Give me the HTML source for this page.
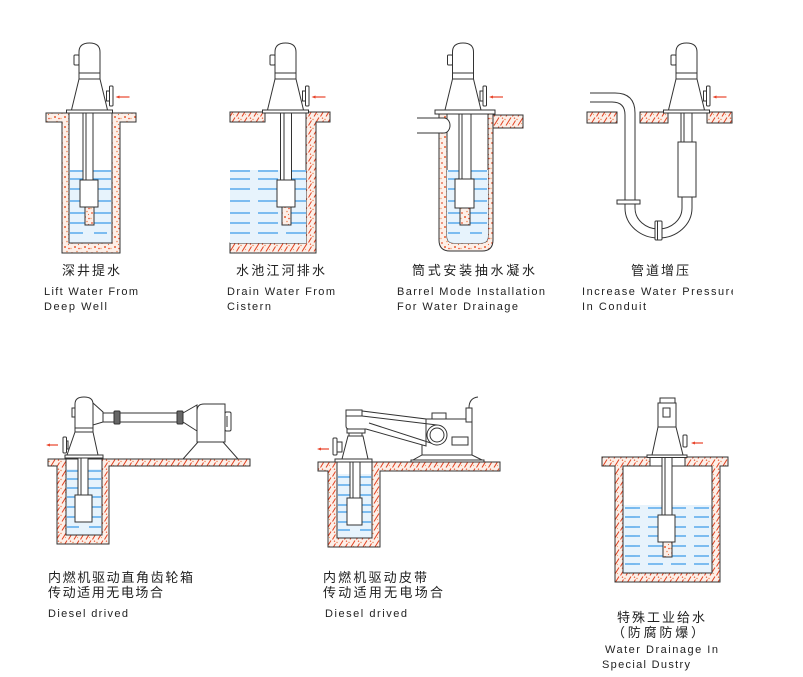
<!DOCTYPE html>
<html><head><meta charset="utf-8"><style>
html,body{margin:0;padding:0;background:#fff;}
svg{display:block;}
text{font-family:"Liberation Sans","Noto Sans CJK SC",sans-serif;fill:#222;}
.cn{font-size:13px;}
.en{font-size:11px;}
</style></head><body>
<svg width="803" height="677" viewBox="0 0 803 677" xmlns="http://www.w3.org/2000/svg">
<defs>
<pattern id="dots" width="10" height="10" patternUnits="userSpaceOnUse">
 <rect width="10" height="10" fill="#fcefe8"/>
 <circle cx="2" cy="3" r="0.9" fill="#e8542e"/>
 <circle cx="7" cy="1.5" r="0.8" fill="#f08a5a"/>
 <circle cx="5" cy="7" r="1" fill="#ea5a30"/>
 <circle cx="9" cy="8.5" r="0.8" fill="#e84a2a"/>
 <circle cx="1" cy="8.5" r="0.7" fill="#f3a070"/>
 <circle cx="8.5" cy="4.5" r="0.6" fill="#ee7040"/>
</pattern>
<pattern id="hatch" width="12" height="9" patternUnits="userSpaceOnUse">
 <rect width="12" height="9" fill="#fcefe8"/>
 <path d="M2,8.5 L7,0.5 M8.5,8.5 L11.5,3.5" stroke="#e2401f" stroke-width="1" fill="none"/>
 <circle cx="1" cy="2.5" r="0.7" fill="#f08050"/>
 <circle cx="10.5" cy="1.2" r="0.7" fill="#ea5a35"/>
 <circle cx="5.5" cy="6.5" r="0.6" fill="#f3a070"/>
</pattern>
<clipPath id="clipR"><rect x="0" y="0" width="733" height="677"/></clipPath>
<g id="hd" stroke="#333" stroke-width="1" fill="#fff">
 <rect x="-15.5" y="55" width="5" height="10" rx="1"/>
 <path d="M-10.5,73 V52 Q-10.5,43 0,43 Q10.5,43 10.5,52 V73 Z"/>
 <rect x="-10.5" y="73" width="21" height="6"/>
 <path d="M-10.5,79 H10.5 L18,110 H-18 Z"/>
 <rect x="17" y="91" width="3" height="10"/>
 <rect x="20" y="86" width="3.5" height="20" rx="1"/>
 <rect x="-23" y="110" width="46" height="3"/>
 <line x1="29" y1="97" x2="40" y2="97" stroke="#e8442a" stroke-width="1.2"/>
 <path d="M26,97 L30,95.5 V98.5 Z" fill="#e8442a" stroke="none"/>
</g>
</defs>

<rect width="803" height="677" fill="#fff"/>

<!-- ============ PANEL 1 ============ -->
<g stroke="#333" stroke-width="1">
 <path d="M46,113 H136 V122 H120 V253 H62 V122 H46 Z M69,113 V243 H112 V113 Z" fill="url(#dots)" fill-rule="evenodd"/>
 <rect x="69.5" y="170" width="42" height="72.5" fill="#e7f3fc" stroke="none"/>
</g>
<g stroke="#3d9ce8" stroke-width="1.3">
 <line x1="70" y1="171" x2="111" y2="171"/>
 <line x1="70" y1="179" x2="111" y2="179"/>
 <line x1="70" y1="189" x2="111" y2="189"/>
 <line x1="70" y1="201" x2="111" y2="201"/>
 <line x1="70" y1="213" x2="111" y2="213"/>
 <line x1="70" y1="223" x2="111" y2="223"/>
 <line x1="70" y1="233" x2="111" y2="233" stroke-dasharray="13 11"/>
</g>
<g stroke="#333" stroke-width="1" fill="#fff">
 <rect x="83" y="113" width="10" height="67"/>
 <line x1="86" y1="113" x2="86" y2="180"/>
 <rect x="80" y="180" width="18" height="27"/>
 <rect x="85" y="207" width="9" height="18" fill="url(#dots)"/>
</g>
<use href="#hd" x="89.5"/>

<!-- ============ PANEL 2 ============ -->
<g stroke="#333" stroke-width="1">
 <rect x="230" y="112" width="35" height="10" fill="url(#hatch)"/>
 <path d="M306,112 H330 V122 H316 V253 H230 V243 H306 Z" fill="url(#hatch)"/>
 <rect x="230" y="170" width="76" height="73" fill="#e7f3fc" stroke="none"/>
</g>
<g stroke="#3d9ce8" stroke-width="1.3" stroke-dasharray="20 8">
 <line x1="230" y1="171" x2="306" y2="171"/>
 <line x1="230" y1="179" x2="306" y2="179"/>
 <line x1="230" y1="189" x2="306" y2="189"/>
 <line x1="230" y1="201" x2="306" y2="201"/>
 <line x1="230" y1="213" x2="306" y2="213"/>
 <line x1="230" y1="223" x2="306" y2="223"/>
 <line x1="230" y1="233" x2="306" y2="233"/>
</g>
<g stroke="#333" stroke-width="1" fill="#fff">
 <rect x="280.5" y="113" width="11" height="67"/>
 <line x1="284" y1="113" x2="284" y2="180"/>
 <rect x="277" y="180" width="18" height="27"/>
 <rect x="282" y="207" width="9" height="18" fill="url(#dots)"/>
</g>
<use href="#hd" x="285.5"/>

<!-- ============ PANEL 3 ============ -->
<g stroke="#333" stroke-width="1">
 <path d="M439,114 V240 Q439,251 450,251 H482 Q493,251 493,240 V114 Z M447,114 V236 Q447,243 454,243 H481 Q488,243 488,236 V114 Z" fill="url(#dots)" fill-rule="evenodd"/>
 <path d="M447,170 V236 Q447,243 454,243 H481 Q488,243 488,236 V170 Z" fill="#e7f3fc" stroke="none"/>
 <rect x="493" y="115" width="30" height="13" fill="url(#hatch)"/>
 <rect x="417" y="118" width="27" height="15" fill="#fff" stroke="none"/>
 <path d="M417,118 H444 A6,7.5 0 0 1 444,133 H417" fill="#fff"/>
</g>
<g stroke="#3d9ce8" stroke-width="1.3">
 <line x1="448" y1="171" x2="487" y2="171"/>
 <line x1="448" y1="179" x2="487" y2="179"/>
 <line x1="448" y1="189" x2="487" y2="189"/>
 <line x1="448" y1="201" x2="487" y2="201"/>
 <line x1="448" y1="213" x2="487" y2="213"/>
 <line x1="448" y1="223" x2="487" y2="223"/>
 <line x1="448" y1="233" x2="487" y2="233" stroke-dasharray="12 10"/>
</g>
<g stroke="#333" stroke-width="1" fill="#fff">
 <rect x="459" y="114" width="12" height="66"/>
 <line x1="462" y1="114" x2="462" y2="180"/>
 <rect x="455" y="179" width="19" height="29"/>
 <rect x="460" y="208" width="10" height="17" fill="url(#dots)"/>
</g>
<use href="#hd" x="463"/>
<rect x="435" y="110" width="60" height="4" fill="#fff" stroke="#333"/>

<!-- ============ PANEL 4 ============ -->
<g stroke="#333" stroke-width="1" fill="none">
 <rect x="587" y="112" width="30" height="11" fill="url(#hatch)"/>
 <rect x="640" y="112" width="28" height="11" fill="url(#hatch)"/>
 <rect x="707" y="112" width="25" height="11" fill="url(#hatch)"/>
 <path d="M590,93 H615 Q635,93 635,113 V200"/>
 <path d="M590,102 H612 Q625,102 625,115 V200"/>
 <path d="M625,204 V208 A33.5,30 0 0 0 692,208 V197"/>
 <path d="M635,204 V208 A23.5,21 0 0 0 682,208 V197"/>
 <rect x="617" y="200" width="23" height="4" fill="#fff"/>
 <rect x="655" y="221" width="7" height="19" fill="#fff" rx="1"/>
 <line x1="657.5" y1="221" x2="657.5" y2="240"/>
 <rect x="681" y="113" width="11" height="29" fill="#fff"/>
 <line x1="684" y1="113" x2="684" y2="142"/>
 <rect x="678" y="142" width="18" height="55" fill="#fff"/>
</g>
<use href="#hd" x="686.5"/>

<!-- ============ PANEL 5 ============ -->
<g stroke="#333" stroke-width="1">
 <path d="M48,459 H250 V466 H109 V544 H57 V466 H48 Z M66,459 V535 H102 V459 Z" fill="url(#hatch)" fill-rule="evenodd"/>
 <rect x="66.5" y="469" width="35" height="65.5" fill="#e7f3fc" stroke="none"/>
</g>
<g stroke="#3d9ce8" stroke-width="1.3">
 <line x1="67" y1="471" x2="101" y2="471"/>
 <line x1="67" y1="479" x2="101" y2="479"/>
 <line x1="67" y1="488" x2="101" y2="488"/>
 <line x1="67" y1="497" x2="101" y2="497"/>
 <line x1="67" y1="507" x2="101" y2="507"/>
 <line x1="67" y1="517" x2="101" y2="517"/>
 <line x1="67" y1="527" x2="101" y2="527" stroke-dasharray="12 10"/>
</g>
<g stroke="#333" stroke-width="1" fill="#fff">
 <rect x="78" y="458" width="10" height="37"/>
 <line x1="81" y1="458" x2="81" y2="495"/>
 <rect x="75" y="495" width="17" height="27"/>
 <rect x="72" y="408" width="3" height="9"/>
 <path d="M75,428 V404 Q75,397 84,397 Q93,397 93,404 V428 Z"/>
 <rect x="75" y="428" width="18" height="4"/>
 <path d="M75,432 H93 L98,455 H67 Z"/>
 <rect x="66" y="441" width="2" height="8"/>
 <rect x="63" y="437" width="3.5" height="16" rx="1"/>
 <rect x="65" y="455" width="38" height="3"/>
 <path d="M93,403 L103,412 V422 L93,425 Z"/>
 <rect x="103" y="413" width="80" height="9"/>
 <rect x="114" y="411" width="6" height="13" rx="1" fill="#666"/>
 <rect x="177" y="411" width="6" height="13" rx="1" fill="#666"/>
 <path d="M183,413 L197,405 V431 L183,422 Z"/>
 <path d="M198,442 H223 L238,459 H183 Z"/>
 <path d="M197,442 V411 Q197,404 204,404 H225 V442 Z"/>
 <rect x="225" y="412" width="6" height="19" rx="1.5"/>
 <line x1="227" y1="416" x2="227" y2="427"/>
</g>
<line x1="49" y1="445" x2="58" y2="445" stroke="#e8442a" stroke-width="1.2"/>
<path d="M46,445 L50,443.5 V446.5 Z" fill="#e8442a"/>

<!-- ============ PANEL 6 ============ -->
<g stroke="#333" stroke-width="1">
 <path d="M318,462 H500 V471 H380 V547 H328 V471 H318 Z M337,462 V538 H372 V462 Z" fill="url(#hatch)" fill-rule="evenodd"/>
 <rect x="337.5" y="474" width="34" height="63.5" fill="#e7f3fc" stroke="none"/>
</g>
<g stroke="#3d9ce8" stroke-width="1.3">
 <line x1="338" y1="477" x2="371" y2="477"/>
 <line x1="338" y1="485" x2="371" y2="485"/>
 <line x1="338" y1="495" x2="371" y2="495"/>
 <line x1="338" y1="505" x2="371" y2="505"/>
 <line x1="338" y1="512" x2="371" y2="512"/>
 <line x1="338" y1="522" x2="371" y2="522"/>
 <line x1="338" y1="530" x2="371" y2="530" stroke-dasharray="12 10"/>
</g>
<g stroke="#333" stroke-width="1" fill="#fff">
 <rect x="350" y="461" width="10" height="37"/>
 <line x1="353" y1="461" x2="353" y2="498"/>
 <rect x="347" y="498" width="15" height="27"/>
 <rect x="422" y="419" width="50" height="36"/>
 <rect x="432" y="413" width="14" height="6"/>
 <rect x="466" y="408" width="6" height="14"/>
 <path d="M469,408 Q469,398 478,397" fill="none"/>
 <rect x="452" y="437" width="16" height="8"/>
 <path d="M422,455 H472 L482,460 H413 Z"/>
 <rect x="411" y="460" width="73" height="2"/>
 <path d="M348,436 H363 L368,459 H342 Z"/>
 <rect x="349" y="433" width="13" height="3"/>
 <rect x="337" y="442" width="5" height="10"/>
 <rect x="333" y="438" width="4" height="17" rx="1"/>
 <rect x="335" y="459" width="37" height="3"/>
 <rect x="347" y="429" width="18" height="4"/>
 <path d="M346,416 V426 Q346,429 349,429 H366 L426,446 V419 L362,411 V416 Z"/>
 <rect x="346" y="410" width="16" height="6"/>
 <line x1="362" y1="416" x2="437" y2="425"/>
 <line x1="369" y1="423" x2="437" y2="445"/>
 <circle cx="437" cy="435" r="10"/>
 <circle cx="437" cy="435" r="7"/>
</g>
<line x1="320" y1="449" x2="329" y2="449" stroke="#e8442a" stroke-width="1.2"/>
<path d="M317,449 L321,447.5 V450.5 Z" fill="#e8442a"/>

<!-- ============ PANEL 7 ============ -->
<g stroke="#333" stroke-width="1">
 <path d="M602,457 H728 V466 H720 V582 H615 V466 H602 Z M623,466 V573 H712 V466 Z M650,457 V466 H685 V457 Z" fill="url(#hatch)" fill-rule="evenodd"/>
 <rect x="623.5" y="505" width="88" height="67.5" fill="#e7f3fc" stroke="none"/>
</g>
<g stroke="#3d9ce8" stroke-width="1.3" stroke-dasharray="15 8">
 <line x1="625" y1="508" x2="711" y2="508"/>
 <line x1="625" y1="517" x2="711" y2="517"/>
 <line x1="625" y1="527" x2="711" y2="527"/>
 <line x1="625" y1="536" x2="711" y2="536"/>
 <line x1="625" y1="546" x2="711" y2="546"/>
 <line x1="625" y1="556" x2="711" y2="556"/>
 <line x1="625" y1="564" x2="711" y2="564"/>
</g>
<g stroke="#333" stroke-width="1" fill="#fff">
 <rect x="662" y="457" width="10" height="58"/>
 <line x1="665" y1="457" x2="665" y2="515"/>
 <rect x="658" y="515" width="17" height="27"/>
 <rect x="663" y="542" width="9" height="15" fill="url(#dots)"/>
 <rect x="658" y="403" width="18" height="24"/>
 <rect x="660" y="398" width="15" height="5"/>
 <rect x="663" y="408" width="7" height="9"/>
 <path d="M658,427 H676 L683,455 H652 Z"/>
 <rect x="683" y="435" width="4" height="12" rx="1"/>
 <rect x="647" y="455" width="40" height="2.5"/>
</g>
<line x1="694" y1="443" x2="703" y2="443" stroke="#e8442a" stroke-width="1.2"/>
<path d="M691,443 L695,441.5 V444.5 Z" fill="#e8442a"/>

<!-- ============ TEXT ============ -->
<text class="cn" x="62" y="275" textLength="58" lengthAdjust="spacing">深井提水</text>
<text class="en" x="44" y="295" textLength="94" lengthAdjust="spacing">Lift Water From</text>
<text class="en" x="44" y="310" textLength="63" lengthAdjust="spacing">Deep Well</text>

<text class="cn" x="236" y="275" textLength="89" lengthAdjust="spacing">水池江河排水</text>
<text class="en" x="227" y="295" textLength="108" lengthAdjust="spacing">Drain Water From</text>
<text class="en" x="227" y="310" textLength="44" lengthAdjust="spacing">Cistern</text>

<text class="cn" x="412" y="275" textLength="123" lengthAdjust="spacing">筒式安装抽水凝水</text>
<text class="en" x="397" y="295" textLength="148" lengthAdjust="spacing">Barrel Mode Installation</text>
<text class="en" x="397" y="310" textLength="121" lengthAdjust="spacing">For Water Drainage</text>

<text class="cn" x="631" y="275" textLength="58" lengthAdjust="spacing">管道增压</text>
<g clip-path="url(#clipR)">
<text class="en" x="582" y="295" textLength="155" lengthAdjust="spacing">Increase Water Pressure</text>
</g>
<text class="en" x="582" y="310" textLength="64" lengthAdjust="spacing">In Conduit</text>

<text class="cn" x="48" y="582" textLength="145" lengthAdjust="spacing">内燃机驱动直角齿轮箱</text>
<text class="cn" x="48" y="597" textLength="115" lengthAdjust="spacing">传动适用无电场合</text>
<text class="en" x="48" y="617" textLength="80" lengthAdjust="spacing">Diesel drived</text>

<text class="cn" x="323" y="582" textLength="104" lengthAdjust="spacing">内燃机驱动皮带</text>
<text class="cn" x="323" y="597" textLength="120" lengthAdjust="spacing">传动适用无电场合</text>
<text class="en" x="325" y="617" textLength="82" lengthAdjust="spacing">Diesel drived</text>

<text class="cn" x="617" y="622" textLength="88" lengthAdjust="spacing">特殊工业给水</text>
<text class="cn" x="612" y="637" textLength="92" lengthAdjust="spacing">（防腐防爆）</text>
<text class="en" x="605" y="653" textLength="113" lengthAdjust="spacing">Water Drainage In</text>
<text class="en" x="602" y="668" textLength="88" lengthAdjust="spacing">Special Dustry</text>
</svg>
</body></html>
